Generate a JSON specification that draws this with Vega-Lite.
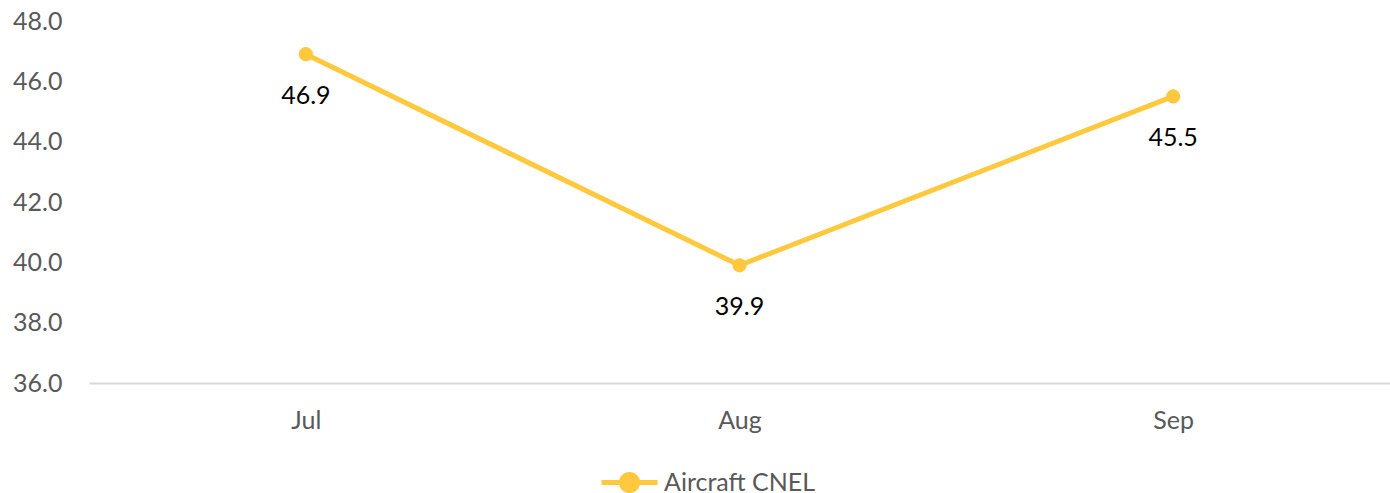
{
  "$schema": "https://vega.github.io/schema/vega-lite/v6.json",
  "width": 1301,
  "height": 362,
  "autosize": {"type": "none"},
  "padding": {"left": 89, "top": 21, "right": 0, "bottom": 110},
  "background": "white",
  "config": {"view": {"stroke": null}, "font": "Lato"},
  "data": {
    "values": [
      {"month": "Jul", "value": 46.9, "series": "Aircraft CNEL"},
      {"month": "Aug", "value": 39.9, "series": "Aircraft CNEL"},
      {"month": "Sep", "value": 45.5, "series": "Aircraft CNEL"}
    ]
  },
  "encoding": {
    "x": {
      "field": "month", "type": "nominal", "sort": null,
      "scale": {"type": "point", "padding": 0.5},
      "axis": {
        "title": null, "labelAngle": 0, "ticks": false,
        "domainColor": "#D9D9D9", "domainWidth": 2,
        "labelFont": "Lato", "labelFontSize": 25, "labelColor": "#595959",
        "labelPadding": 25
      }
    },
    "y": {
      "field": "value", "type": "quantitative",
      "scale": {"domain": [36, 48], "nice": false, "zero": false},
      "axis": {
        "title": null, "domain": false, "ticks": false, "grid": false,
        "values": [36, 38, 40, 42, 44, 46, 48], "format": ".1f",
        "labelFont": "Lato", "labelFontSize": 25, "labelColor": "#595959",
        "labelPadding": 27
      }
    }
  },
  "layer": [
    {
      "mark": {"type": "line", "strokeWidth": 5},
      "encoding": {
        "color": {
          "field": "series", "type": "nominal",
          "scale": {"range": ["#FFC83D"]},
          "legend": {
            "title": null, "orient": "none", "legendX": 510, "legendY": 431,
            "direction": "horizontal",
            "symbolType": "M-1,0H1M0.29,0A0.29,0.29 0 1,1 -0.29,0A0.29,0.29 0 1,1 0.29,0",
            "symbolSize": 3136, "symbolStrokeWidth": 5,
            "symbolFillColor": "#FFC83D", "symbolStrokeColor": "#FFC83D",
            "labelFont": "Lato", "labelFontSize": 25, "labelColor": "#595959",
            "labelOffset": 4, "labelLimit": 300
          }
        }
      }
    },
    {
      "mark": {"type": "point", "filled": true, "size": 200, "opacity": 1},
      "encoding": {"color": {"field": "series", "type": "nominal", "legend": null}}
    },
    {
      "mark": {"type": "text", "dy": 42, "fontSize": 25, "font": "Lato", "color": "#000000"},
      "encoding": {"text": {"field": "value", "type": "quantitative", "format": ".1f"}}
    }
  ]
}
